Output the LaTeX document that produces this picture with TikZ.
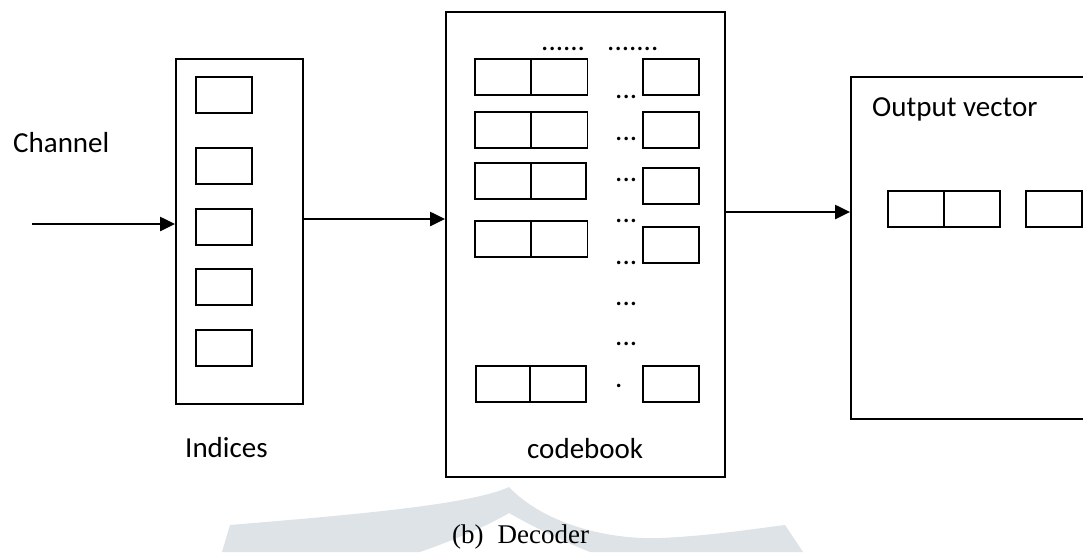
\documentclass[tikz,border=0pt]{standalone}
\usepackage{fontspec}
\setmainfont{Carlito}
\newfontfamily\capfont{Liberation Serif}
\usetikzlibrary{arrows.meta}

\definecolor{wmgrey}{RGB}{221,227,231}

\tikzset{
  frame/.style={draw, line width=1.8pt, inner sep=0pt},
  cell/.style={draw, line width=1.8pt, rectangle, inner sep=0pt,
               minimum width=56pt, minimum height=36pt},
  label/.style={font=\fontsize{29}{34}\selectfont, inner sep=0pt, anchor=base west},
  dots/.style={font=\fontsize{29}{34}\selectfont, inner sep=0pt, anchor=base west},
  flow/.style={line width=2.2pt, -{Triangle[length=15pt,width=14pt]}},
}

\begin{document}
\begin{tikzpicture}[x=1pt, y=-1pt]
  \clip (0,0) rectangle (1083,552);
  \fill[white] (0,0) rectangle (1083,552);

  % faint background emblem
  \fill[wmgrey] (222,552) -- (230,525)
    .. controls (350,515) and (470,505) .. (509,487)
    .. controls (540,520) and (600,540) .. (660,538)
    .. controls (710,536) and (760,528) .. (785,525)
    -- (803,552) -- (590,552)
    .. controls (560,540) and (530,525) .. (509,513)
    .. controls (480,530) and (440,545) .. (420,552) -- cycle;

  % outer frames
  \node[frame, minimum width=127pt, minimum height=345pt] (ind) at (239.5,231.5) {};
  \node[frame, minimum width=279pt, minimum height=465pt] (cb) at (585.5,244.5) {};
  \node[frame, minimum width=250pt, minimum height=342pt] (out) at (976,248) {};

  % index cells
  \node[cell] (i1) at (224,95) {};
  \node[cell] (i2) at (224,166) {};
  \node[cell] (i3) at (224,227) {};
  \node[cell] (i4) at (224,287) {};
  \node[cell] (i5) at (224,348) {};

  % codebook rows
  \node[cell] (c1a) at (503,77) {};
  \node[cell] (c1b) at (559.5,77) {};
  \node[cell] (c1n) at (671,77) {};
  \node[cell] (c2a) at (503,130) {};
  \node[cell] (c2b) at (559.5,130) {};
  \node[cell] (c2n) at (671,130) {};
  \node[cell] (c3a) at (503,181) {};
  \node[cell, minimum width=55pt] (c3b) at (558.5,181) {};
  \node[cell] (c3n) at (671,186) {};
  \node[cell] (c4a) at (503,239) {};
  \node[cell] (c4b) at (559.5,239) {};
  \node[cell] (c4n) at (671,245) {};
  \node[cell, minimum width=54pt] (cka) at (503,384) {};
  \node[cell] (ckb) at (558,384) {};
  \node[cell] (ckn) at (671,384) {};

  % codebook dots
  \node[dots] (d0a) at (541,50) {......};
  \node[dots] (d0b) at (607,50) {.......};
  \node[dots] (d1) at (615,98) {...};
  \node[dots] (d2) at (615,140) {...};
  \node[dots] (d3) at (615,181) {...};
  \node[dots] (d4) at (615,222) {...};
  \node[dots] (d5) at (615,264) {...};
  \node[dots] (d6) at (615,305) {...};
  \node[dots] (d7) at (615,345) {...};
  \node[dots] (d8) at (615,387) {.};

  % output vector cells
  \node[cell] (o1) at (916,209) {};
  \node[cell] (o2) at (972,209) {};
  \node[cell] (o3) at (1054,209) {};

  % labels
  \node[label] (tch) at (13,152) {Channel};
  \node[label] (tin) at (185,457) {Indices};
  \node[label] (tcb) at (527,458) {codebook};
  \node[label] (tov) at (872,116) {Output vector};
  \node[inner sep=0pt, anchor=base west, font=\capfont\fontsize{27}{32}\selectfont] (cap)
    at (452,543) {(b)\hspace{14pt}Decoder};

  % connectors
  \coordinate (src) at (32,224);
  \coordinate (r2) at (0,219);
  \coordinate (r3) at (0,212);
  \draw[flow] (src) -- (src -| ind.west);
  \draw[flow] (r2 -| ind.east) -- (r2 -| cb.west);
  \draw[flow] (r3 -| cb.east) -- (r3 -| out.west);
\end{tikzpicture}
\end{document}
